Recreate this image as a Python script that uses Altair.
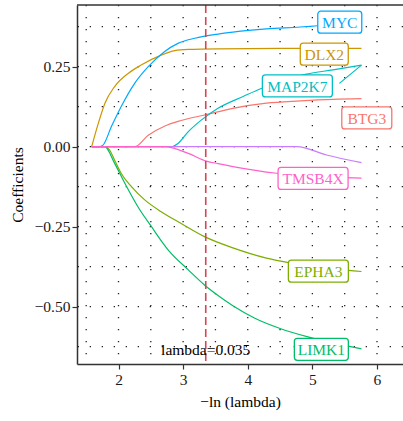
import altair as alt
import pandas as pd

# ---------------- data ----------------
genes = ["BTG3", "DLX2", "EPHA3", "LIMK1", "MAP2K7", "MYC", "unlabelled", "TMSB4X"]
colors = ["#F8766D", "#CD9600", "#7CAE00", "#00BE67", "#00BFC4", "#00A9FF", "#C77CFF", "#FF61CC"]

btg3_x = [1.585, 2.25, 2.46, 2.71, 2.97, 3.33, 3.77, 4.29, 4.81, 5.32, 5.76]
btg3_y = [0.0, 0.0, 0.036, 0.064, 0.082, 0.099, 0.12, 0.136, 0.143, 0.148, 0.15]

dlx2_x = [1.585, 1.68, 1.79, 1.94, 2.15, 2.35, 2.66, 2.87, 3.08, 3.54, 4.5, 5.76]
dlx2_y = [0.0, 0.068, 0.136, 0.188, 0.229, 0.255, 0.286, 0.300, 0.304, 0.306, 0.307, 0.307]

epha3_x = [1.585, 1.786, 1.86, 1.94, 2.04, 2.2, 2.41, 2.66, 2.97, 3.33, 3.77, 4.29, 4.63, 5.0, 5.76]
epha3_y = [0.0, 0.0, -0.01, -0.042, -0.083, -0.125, -0.167, -0.203, -0.24, -0.281, -0.316, -0.348, -0.362, -0.373, -0.39]

limk1_x = [1.585, 1.786, 1.94, 2.1, 2.3, 2.51, 2.77, 3.08, 3.33, 3.54, 3.77, 4.11, 4.5, 4.96, 5.76]
limk1_y = [0.0, 0.0, -0.052, -0.115, -0.1875, -0.25, -0.323, -0.385, -0.432, -0.465, -0.497, -0.536, -0.568, -0.596, -0.632]

map2k7_x = [1.585, 2.82, 2.92, 3.08, 3.28, 3.54, 3.93, 4.21, 4.55, 4.91, 5.32, 5.76]
map2k7_y = [0.0, 0.0, 0.01, 0.047, 0.083, 0.12, 0.157, 0.182, 0.205, 0.227, 0.24, 0.255]

myc_x = [1.585, 1.70, 1.76, 1.89, 2.04, 2.25, 2.46, 2.71, 2.92, 3.18, 3.54, 3.77, 4.29, 4.81, 5.08, 5.76]
myc_y = [0.0, 0.0, 0.005, 0.063, 0.125, 0.198, 0.25, 0.297, 0.323, 0.339, 0.352, 0.358, 0.368, 0.374, 0.378, 0.388]

unlabelled_x = [1.585, 4.76, 5.22, 5.76]
unlabelled_y = [0.0, 0.0, -0.026, -0.05]

tmsb4x_x = [1.585, 2.715, 3.08, 3.36, 3.54, 3.77, 4.45, 5.0, 5.76]
tmsb4x_y = [0.0, 0.0, -0.021, -0.045, -0.053, -0.062, -0.083, -0.093, -0.098]

# labels (ggrepel-style boxes), anchored in data units
label_genes = ["MYC", "DLX2", "MAP2K7", "BTG3", "TMSB4X", "EPHA3", "LIMK1"]
label_x = [5.424, 5.184, 4.768, 5.842, 5.011, 5.093, 5.139]
label_y = [0.389, 0.289, 0.19, 0.09, -0.099, -0.389, -0.633]

# connector segment for the displaced label
seg_gene = ["MAP2K7"]
seg_x = [5.418]
seg_y = [0.198]
seg_x2 = [5.76]
seg_y2 = [0.255]

# chosen lambda
lambda_value = 0.035
lambda_x = [3.35]
lambda_text = ["lambda=0.035"]
lambda_text_y = [-0.635]

x_ticks = [2, 3, 4, 5, 6]
y_ticks = [-0.5, -0.25, 0.0, 0.25]
grid_x = [1.5, 2.0, 2.5, 3.0, 3.5, 4.0, 4.5, 5.0, 5.5, 6.0]
grid_y = [0.375, 0.25, 0.125, 0.0, -0.125, -0.25, -0.375, -0.5, -0.625]

# ---------------- layout / style ----------------
W, H = 326, 359
X_DOMAIN = [1.3576, 6.4025]
Y_DOMAIN = [-0.679, 0.4428]
FONT = "Liberation Serif"
FS = 15.5
box_px_w = {"MYC": 44, "DLX2": 48, "MAP2K7": 70, "BTG3": 50, "TMSB4X": 70, "EPHA3": 60, "LIMK1": 54}
box_px_h = 22

series = {
    "BTG3": (btg3_x, btg3_y),
    "DLX2": (dlx2_x, dlx2_y),
    "EPHA3": (epha3_x, epha3_y),
    "LIMK1": (limk1_x, limk1_y),
    "MAP2K7": (map2k7_x, map2k7_y),
    "MYC": (myc_x, myc_y),
    "unlabelled": (unlabelled_x, unlabelled_y),
    "TMSB4X": (tmsb4x_x, tmsb4x_y),
}
rows = []
for i, (g, (xs_, ys_)) in enumerate(series.items()):
    for xv, yv in zip(xs_, ys_):
        rows.append({"gene": g, "x": xv, "y": yv, "ord": i})
paths = pd.DataFrame(rows)

ux = W / (X_DOMAIN[1] - X_DOMAIN[0])
uy = H / (Y_DOMAIN[1] - Y_DOMAIN[0])
labels = pd.DataFrame({"gene": label_genes, "x": label_x, "y": label_y})
labels["x1"] = [lx - box_px_w[g] / 2 / ux for g, lx in zip(label_genes, label_x)]
labels["x2"] = [lx + box_px_w[g] / 2 / ux for g, lx in zip(label_genes, label_x)]
labels["y1"] = [ly - box_px_h / 2 / uy for ly in label_y]
labels["y2"] = [ly + box_px_h / 2 / uy for ly in label_y]

segs = pd.DataFrame({"gene": seg_gene, "x": seg_x, "y": seg_y, "x2": seg_x2, "y2": seg_y2})

xscale = alt.Scale(domain=X_DOMAIN, nice=False, zero=False)
yscale = alt.Scale(domain=Y_DOMAIN, nice=False, zero=False)
cscale = alt.Scale(domain=genes, range=colors)

axis_common = dict(
    grid=False, domainColor="#333333", domainWidth=1.5, tickColor="#333333",
    tickWidth=1.2, tickSize=5, labelFontSize=FS, labelColor="#1a1a1a",
    labelFont=FONT, titleFont=FONT, titleFontSize=FS, titleFontWeight="normal",
    titleColor="#000000",
)
XAX = alt.Axis(values=x_ticks, format="d", title="−ln (lambda)", labelPadding=3, titlePadding=7, **axis_common)
YAX = alt.Axis(values=y_ticks, format=".2f", title="Coefficients", labelPadding=2, titlePadding=9, **axis_common)


def X(field):
    return alt.X(field, scale=xscale, axis=XAX)


def Y(field):
    return alt.Y(field, scale=yscale, axis=YAX)


grid_v = alt.Chart(pd.DataFrame({"x": grid_x})).mark_rule(
    color="#222222", strokeWidth=1.3, strokeDash=[1.3, 10.7]
).encode(x=X("x:Q"))

grid_h = alt.Chart(pd.DataFrame({"y": grid_y})).mark_rule(
    color="#222222", strokeWidth=1.3, strokeDash=[1.3, 10.7]
).encode(y=Y("y:Q"))

lines = alt.Chart(paths).mark_line(strokeWidth=1.2, interpolate="monotone").encode(
    x=X("x:Q"), y=Y("y:Q"),
    color=alt.Color("gene:N", scale=cscale, legend=None),
    order=alt.Order("x:Q"),
)

vline = alt.Chart(pd.DataFrame({"x": lambda_x})).mark_rule(
    color="#D64550", strokeWidth=1.6, strokeDash=[8, 4]
).encode(x=X("x:Q"))

lam_text = alt.Chart(pd.DataFrame({"x": lambda_x, "y": lambda_text_y, "t": lambda_text})).mark_text(
    font=FONT, fontSize=FS, color="#000000", align="center", baseline="middle"
).encode(x=X("x:Q"), y=Y("y:Q"), text="t:N")

seg_layer = alt.Chart(segs).mark_rule(strokeWidth=1.2).encode(
    x=X("x:Q"), y=Y("y:Q"), x2="x2:Q", y2="y2:Q",
    color=alt.Color("gene:N", scale=cscale, legend=None),
)

boxes = alt.Chart(labels).mark_rect(fill="white", strokeWidth=1.3, cornerRadius=3).encode(
    x=X("x1:Q"), x2="x2:Q", y=Y("y1:Q"), y2="y2:Q",
    stroke=alt.Stroke("gene:N", scale=cscale, legend=None),
)

box_text = alt.Chart(labels).mark_text(font=FONT, fontSize=FS, baseline="middle", dy=1).encode(
    x=X("x:Q"), y=Y("y:Q"), text="gene:N",
    color=alt.Color("gene:N", scale=cscale, legend=None),
)

top_border = alt.Chart(pd.DataFrame({"a": [0]})).mark_rule(color="#333333", strokeWidth=1.5).encode(
    x=alt.value(0), x2=alt.value(W), y=alt.value(0)
)

chart = alt.layer(
    grid_v, grid_h, lines, vline, lam_text, seg_layer, boxes, box_text, top_border
).properties(
    width=W, height=H,
    autosize=alt.AutoSizeParams(type="none"),
    padding={"left": 77, "top": 5, "right": 0, "bottom": 57},
).configure(font=FONT).configure_view(strokeWidth=0)

chart.save("out.html", embed_options={"renderer": "svg", "actions": False})
